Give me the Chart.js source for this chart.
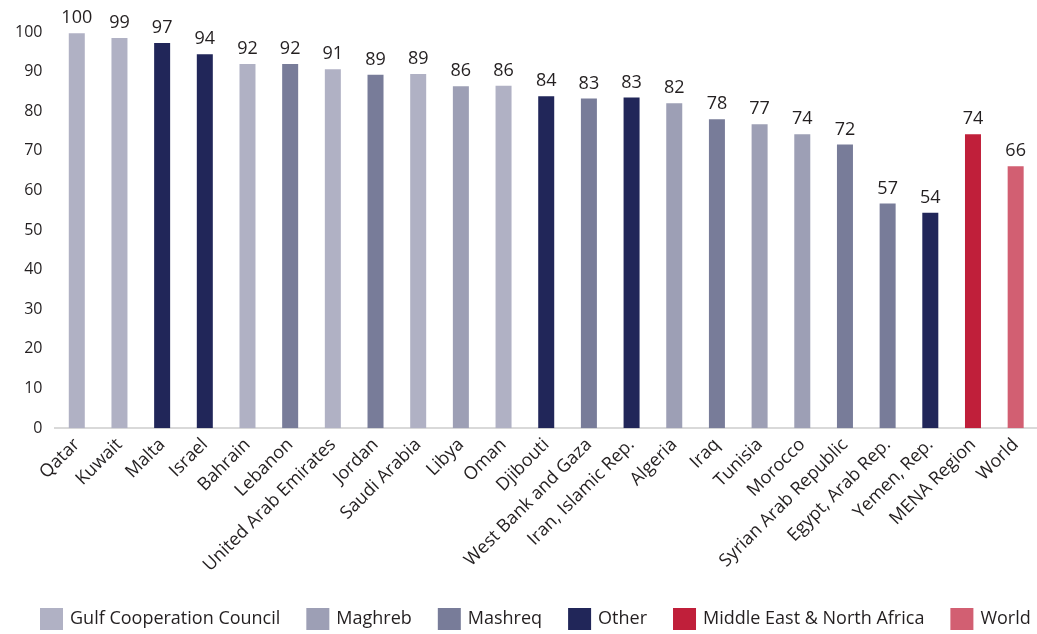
<!DOCTYPE html>
<html>
<head>
<meta charset="utf-8">
<script src="https://cdn.jsdelivr.net/npm/chart.js@4.4.1/dist/chart.umd.min.js"></script>
<style>
html,body{margin:0;padding:0;background:#fff;}
#wrap{width:1037px;height:634px;}
</style>
</head>
<body>
<div id="wrap"><canvas id="c" width="1037" height="634"></canvas></div>
<script>
const categories = ["Qatar","Kuwait","Malta","Israel","Bahrain","Lebanon","United Arab Emirates","Jordan","Saudi Arabia","Libya","Oman","Djibouti","West Bank and Gaza","Iran, Islamic Rep.","Algeria","Iraq","Tunisia","Morocco","Syrian Arab Republic","Egypt, Arab Rep.","Yemen, Rep.","MENA Region","World"];
const values = [99.7,98.5,97.2,94.4,91.9,91.9,90.6,89.2,89.4,86.3,86.45,83.8,83.2,83.45,82.0,78.0,76.7,74.2,71.6,56.7,54.4,74.2,66.1];
const groups = ["GCC","GCC","Other","Other","GCC","Mashreq","GCC","Mashreq","GCC","Maghreb","GCC","Other","Mashreq","Other","Maghreb","Mashreq","Maghreb","Maghreb","Mashreq","Mashreq","Other","MENA","World"];
const groupKeys = ["GCC","Maghreb","Mashreq","Other","MENA","World"];
const groupNames = ["Gulf Cooperation Council","Maghreb","Mashreq","Other","Middle East & North Africa","World"];
const groupColors = ["#b0b1c4","#9d9fb5","#787c99","#212659","#c01f3a","#d25f72"];
const yTicks = [0,10,20,30,40,50,60,70,80,90,100];

const FONT = "'Open Sans', 'Noto Sans', sans-serif";
const TXT = "#231f20";
const barColors = groups.map(g => groupColors[groupKeys.indexOf(g)]);

const valueLabels = {
  id: 'valueLabels',
  afterDatasetsDraw(chart) {
    const ctx = chart.ctx;
    const meta = chart.getDatasetMeta(0);
    ctx.save();
    ctx.font = "18px " + FONT;
    ctx.fillStyle = TXT;
    ctx.textAlign = 'center';
    ctx.textBaseline = 'bottom';
    meta.data.forEach((bar, i) => {
      ctx.fillText(String(Math.round(values[i])), bar.x, bar.y - 6);
    });
    ctx.restore();
  }
};

const customLegend = {
  id: 'customLegend',
  afterDraw(chart) {
    const ctx = chart.ctx;
    ctx.save();
    ctx.font = "18px " + FONT;
    ctx.textBaseline = 'middle';
    ctx.textAlign = 'left';
    let x = 40;
    const yTop = 608, bw = 23, bh = 22;
    groupNames.forEach((n, i) => {
      ctx.fillStyle = groupColors[i];
      ctx.fillRect(x, yTop, bw, bh);
      ctx.fillStyle = TXT;
      const tx = x + bw + 7;
      ctx.fillText(n, tx, yTop + bh / 2);
      x = tx + ctx.measureText(n).width + 26;
    });
    ctx.restore();
  }
};

new Chart(document.getElementById('c'), {
  type: 'bar',
  data: {
    labels: categories,
    datasets: [{
      data: values,
      backgroundColor: barColors,
      barPercentage: 0.75,
      categoryPercentage: 0.5
    }]
  },
  options: {
    responsive: false,
    animation: false,
    layout: { padding: { top: 32, left: 2, right: 0, bottom: 52 } },
    plugins: {
      tooltip: { enabled: false },
      legend: { display: false }
    },
    scales: {
      x: {
        grid: { display: false, drawTicks: false },
        border: { display: true, color: '#d9d9d9', width: 2 },
        ticks: {
          font: { size: 18, family: FONT },
          color: TXT,
          maxRotation: 45, minRotation: 45,
          autoSkip: false,
          padding: 6
        }
      },
      y: {
        min: 0, max: 100,
        grid: { display: false, drawTicks: false },
        border: { display: false },
        afterBuildTicks: (axis) => { axis.ticks = yTicks.map(v => ({ value: v })); },
        ticks: {
          font: { size: 16, family: FONT },
          color: TXT,
          padding: 13
        }
      }
    }
  },
  plugins: [valueLabels, customLegend]
});
</script>
</body>
</html>
